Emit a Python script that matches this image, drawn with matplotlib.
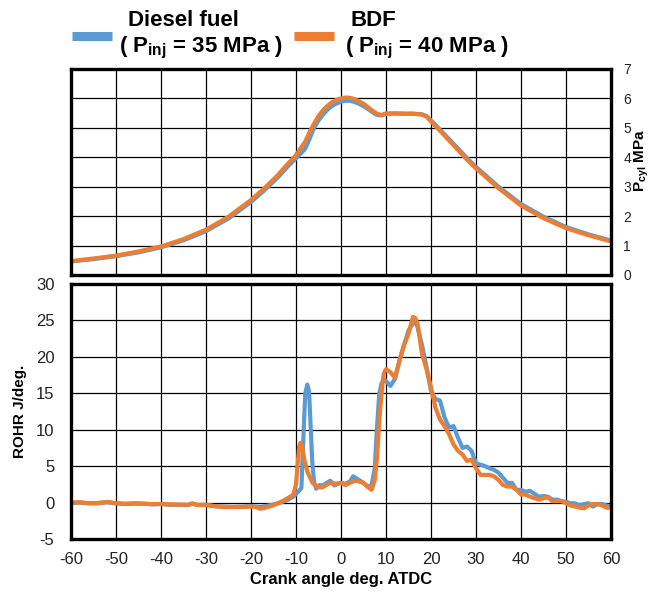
import matplotlib
matplotlib.use("Agg")
import matplotlib.pyplot as plt
from matplotlib.lines import Line2D

plt.rcParams['font.family'] = ['Liberation Sans', 'DejaVu Sans']
plt.rcParams['mathtext.fontset'] = 'custom'
plt.rcParams['mathtext.rm'] = 'Liberation Sans'
plt.rcParams['mathtext.bf'] = 'Liberation Sans:bold'
plt.rcParams['axes.unicode_minus'] = False

BLUE = '#5B9BD5'
ORANGE = '#ED7D31'

# cylinder pressure, MPa
p_ca_bdf = [-60, -55, -50, -45, -40, -35, -30, -25, -20, -17, -14, -12, -10, -9, -8, -7, -6, -5, -4,
            -3, -2, -1, 0, 1, 2, 3, 4, 5, 6, 7, 8, 9, 10, 12, 14, 16, 18, 19, 20, 22, 25, 28, 30,
            35, 40, 45, 50, 55, 60]
p_bdf = [0.47, 0.56, 0.66, 0.80, 0.97, 1.22, 1.54, 1.98, 2.55, 2.95, 3.40, 3.75, 4.07, 4.30, 4.52,
         4.85, 5.14, 5.40, 5.60, 5.75, 5.87, 5.95, 6.00, 6.03, 6.02, 5.98, 5.90, 5.82, 5.70, 5.58,
         5.48, 5.44, 5.49, 5.49, 5.48, 5.48, 5.45, 5.38, 5.22, 4.90, 4.41, 3.92, 3.62, 2.95, 2.36,
         1.93, 1.59, 1.35, 1.14]
p_ca_diesel = p_ca_bdf
p_diesel = [0.46, 0.54, 0.64, 0.77, 0.94, 1.18, 1.49, 1.92, 2.48, 2.88, 3.32, 3.66, 3.97, 4.12, 4.28,
            4.62, 5.00, 5.25, 5.45, 5.62, 5.74, 5.83, 5.89, 5.92, 5.92, 5.88, 5.82, 5.74, 5.64, 5.53,
            5.44, 5.42, 5.47, 5.49, 5.48, 5.48, 5.46, 5.40, 5.25, 4.94, 4.46, 3.97, 3.67, 3.00, 2.41,
            1.98, 1.63, 1.38, 1.17]

# rate of heat release, J/deg.
r_ca_bdf = [-60, -58, -56, -54, -52, -50, -48, -46, -44, -42, -40, -38, -36, -34, -33, -32, -30, -28,
            -26, -24, -22, -20, -19, -18, -17, -16, -15, -14, -13, -12, -11.3, -10.6, -10.0, -9.6,
            -9.3, -9.0, -8.6, -8.1, -7.4, -6.3, -5.2, -4.1, -2.5, -1, 0, 1, 2, 3, 4, 5, 6, 6.8, 7.5,
            8, 8.5, 9, 9.5, 10, 11, 12, 13, 14, 15, 16, 16.5, 17, 18, 19, 20, 21, 22, 23, 24, 25,
            26, 27, 28, 29, 30, 31, 32, 33, 34, 35, 36, 37, 38, 39, 40, 41, 42, 43, 44, 45, 46, 47,
            48, 49, 50, 51, 52, 53, 54, 55, 56, 57, 58, 59, 60]
r_bdf = [0.0, 0.05, -0.1, -0.05, 0.1, -0.1, -0.15, -0.1, -0.15, -0.2, -0.2, -0.25, -0.3, -0.3, -0.1,
         -0.35, -0.3, -0.5, -0.6, -0.6, -0.6, -0.55, -0.6, -0.85, -0.75, -0.55, -0.35, -0.1, 0.2,
         0.55, 0.8, 1.1, 2.5, 5.5, 7.7, 8.2, 7.5, 5.7, 4.1, 2.7, 2.1, 2.1, 2.7, 2.6, 2.7, 2.4, 2.7,
         3.0, 2.9, 2.7, 2.1, 1.75, 3.1, 6.1, 11.2, 14.9, 17.7, 18.3, 17.9, 17.1, 19.5, 21.6, 23.2,
         25.5, 25.3, 24.6, 20.4, 18.3, 15.8, 13.0, 11.4, 10.5, 9.4, 8.0, 7.1, 6.6, 5.7, 5.9, 4.7,
         3.8, 3.8, 3.8, 3.6, 3.1, 2.4, 2.2, 2.2, 1.75, 1.1, 1.1, 0.8, 0.6, 0.4, 0.6, 0.7, 0.2, 0.2,
         0.2, -0.1, -0.4, -0.55, -0.7, -0.8, -0.4, -0.2, -0.2, -0.4, -0.7, -0.7]
r_ca_diesel = [-60, -58, -56, -54, -52, -50, -48, -46, -44, -42, -40, -38, -36, -34, -33, -32, -30,
               -28, -26, -24, -22, -20, -18, -16, -14, -13, -12, -11.3, -10.6, -9.5, -8.8, -8.3,
               -7.95, -7.5, -7.1, -6.8, -6.4, -6.0, -5.5, -4.8, -4.1, -2.4, -1.5, -0.2, 1, 2, 2.7,
               4, 5, 6, 6.8, 7.5, 8, 8.5, 9, 9.5, 10, 11, 12, 13, 14, 15, 16, 16.5, 17, 18, 19, 20,
               21, 22, 23, 24, 25, 26, 27, 28, 29, 30, 31, 32, 33, 34, 35, 36, 37, 38, 39, 40, 41,
               42, 43, 44, 45, 46, 47, 48, 49, 50, 51, 52, 53, 54, 55, 56, 57, 58, 59, 60]
r_diesel = [-0.05, 0.0, -0.1, -0.1, 0.05, -0.1, -0.2, -0.15, -0.15, -0.25, -0.2, -0.3, -0.3, -0.35,
            -0.15, -0.3, -0.35, -0.5, -0.55, -0.6, -0.55, -0.5, -0.6, -0.4, -0.1, 0.1, 0.3, 0.6,
            0.8, 1.5, 2.0, 9.8, 14.9, 16.2, 15.3, 11.2, 5.7, 2.9, 1.9, 2.4, 2.35, 3.0, 2.35, 2.7,
            2.6, 2.9, 3.6, 3.1, 2.7, 2.2, 2.4, 4.7, 10.3, 14.9, 16.3, 17.0, 16.7, 16.0, 17.0, 19.5,
            21.6, 23.6, 24.6, 24.8, 24.1, 21.6, 18.6, 15.3, 14.2, 14.0, 11.7, 10.3, 10.5, 8.9, 7.5,
            7.7, 7.1, 5.4, 5.2, 5.0, 4.7, 4.5, 4.1, 3.4, 2.7, 2.7, 1.75, 1.75, 1.5, 1.6, 1.2, 0.8,
            0.9, 0.8, 0.4, 0.4, 0.2, 0.1, -0.1, -0.1, -0.4, -0.2, -0.1, -0.55, -0.2, -0.2, -0.4,
            -0.5]

x_ticks = list(range(-60, 61, 10))
p_ticks = list(range(0, 8))
r_ticks = list(range(-5, 31, 5))

fig = plt.figure(figsize=(6.51, 5.92), dpi=100)
W, H = 651, 592
ax1 = fig.add_axes([71 / W, 1 - 275 / H, 540 / W, 206 / H])
ax2 = fig.add_axes([71 / W, 1 - 539 / H, 540 / W, 255 / H])

for ax in (ax1, ax2):
    ax.set_xlim(-60, 60)
    ax.set_xticks(x_ticks)
    ax.grid(True, color='black', linewidth=0.9)
    ax.set_axisbelow(True)
    for s in ax.spines.values():
        s.set_linewidth(2.4)
    ax.tick_params(length=0)

# top: cylinder pressure
ax1.plot(p_ca_diesel, p_diesel, color=BLUE, lw=3.0, solid_capstyle='butt')
ax1.plot(p_ca_bdf, p_bdf, color=ORANGE, lw=3.0, solid_capstyle='butt')
ax1.set_ylim(0, 7)
ax1.set_yticks(p_ticks)
ax1.tick_params(axis='x', labelbottom=False)
ax1.yaxis.tick_right()
ax1.tick_params(axis='y', labelsize=10, pad=9, colors='#222222')
# right axis title, written as figure text so it stays inside the canvas
fig.text(641.5 / W, 1 - 160 / H, r'P$_{\mathbf{cyl}}$ MPa', fontsize=11, fontweight='bold',
         rotation=90, ha='center', va='center')

# bottom: rate of heat release
ax2.plot(r_ca_diesel, r_diesel, color=BLUE, lw=3.0)
ax2.plot(r_ca_bdf, r_bdf, color=ORANGE, lw=3.0)
ax2.set_ylim(-5, 30)
ax2.set_yticks(r_ticks)
ax2.tick_params(axis='y', labelsize=12, pad=12, colors='#222222')
ax2.tick_params(axis='x', labelsize=12, pad=9, colors='#222222')
ax2.set_ylabel('ROHR J/deg.', fontsize=11, fontweight='bold', labelpad=6)
ax2.set_xlabel('Crank angle deg. ATDC', fontsize=12, fontweight='bold', labelpad=4)

# legend drawn by hand, Excel style
fig.add_artist(Line2D([72 / W, 112 / W], [1 - 36 / H] * 2, transform=fig.transFigure,
                      color=BLUE, lw=6.5, solid_capstyle='butt'))
fig.add_artist(Line2D([294 / W, 334 / W], [1 - 36 / H] * 2, transform=fig.transFigure,
                      color=ORANGE, lw=6.5, solid_capstyle='butt'))
fig.text(128 / W, 1 - 21 / H, 'Diesel fuel', fontsize=16, fontweight='bold', va='center')
fig.text(119 / W, 1 - 48 / H, r'( P$_{\mathbf{inj}}$ = 35 MPa )', fontsize=16,
         fontweight='bold', va='center')
fig.text(351 / W, 1 - 21 / H, 'BDF', fontsize=16, fontweight='bold', va='center')
fig.text(345 / W, 1 - 48 / H, r'( P$_{\mathbf{inj}}$ = 40 MPa )', fontsize=16,
         fontweight='bold', va='center')

fig.savefig('out.png', dpi=100)
